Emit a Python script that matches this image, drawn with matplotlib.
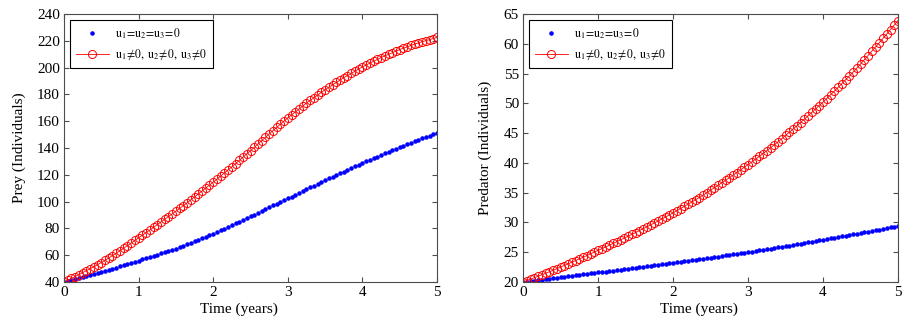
import matplotlib
matplotlib.use('Agg')
import matplotlib.pyplot as plt
import numpy as np

plt.rcParams['font.family'] = ['Liberation Serif', 'DejaVu Serif']
plt.rcParams['mathtext.fontset'] = 'stix'

# time grid (years), 101 samples
t = np.linspace(0, 5, 101)

# prey, no control
prey_u0 = [40.0, 40.7, 41.4, 42.1, 42.8, 43.5, 44.2, 45.0, 45.8, 46.5, 47.3,
           48.1, 48.9, 49.8, 50.7, 51.6, 52.5, 53.4, 54.2, 55.1, 56.0,
           56.9, 57.8, 58.7, 59.6, 60.5, 61.4, 62.3, 63.2, 64.1, 65.0,
           66.1, 67.2, 68.3, 69.4, 70.5, 71.6, 72.7, 73.8, 74.9, 76.0,
           77.3, 78.6, 79.9, 81.2, 82.5, 83.8, 85.1, 86.4, 87.7, 89.0,
           90.3, 91.7, 93.0, 94.4, 95.7, 97.1, 98.4, 99.8, 101.1, 102.5,
           103.8, 105.2, 106.5, 107.9, 109.2, 110.6, 111.9, 113.3, 114.6, 116.0,
           117.3, 118.5, 119.8, 121.1, 122.4, 123.7, 125.0, 126.2, 127.5, 128.8,
           130.0, 131.2, 132.3, 133.5, 134.7, 135.9, 137.1, 138.2, 139.4, 140.6,
           141.7, 142.8, 143.9, 145.0, 146.1, 147.1, 148.2, 149.3, 150.4, 151.5]

# prey, with controls
prey_u = [40.0, 41.3, 42.7, 44.1, 45.5, 47.0, 48.4, 49.9, 51.4, 52.9, 54.5,
          56.2, 57.9, 59.7, 61.5, 63.3, 65.2, 67.1, 69.0, 71.0, 73.0,
          74.9, 76.8, 78.8, 80.8, 82.8, 84.8, 86.8, 88.8, 90.8, 92.8,
          94.9, 97.0, 99.1, 101.3, 103.5, 105.7, 107.9, 110.1, 112.3, 114.5,
          116.8, 119.1, 121.4, 123.7, 126.0, 128.4, 130.8, 133.2, 135.6, 138.0,
          140.5, 143.0, 145.5, 148.0, 150.5, 152.9, 155.3, 157.7, 160.1, 162.5,
          164.7, 166.9, 169.1, 171.3, 173.5, 175.5, 177.5, 179.5, 181.5, 183.5,
          185.3, 187.1, 188.9, 190.7, 192.5, 194.1, 195.7, 197.3, 198.9, 200.5,
          201.9, 203.3, 204.7, 206.1, 207.5, 208.7, 209.9, 211.1, 212.3, 213.5,
          214.5, 215.5, 216.5, 217.5, 218.5, 219.3, 220.1, 220.9, 221.7, 222.5]

# predator, no control
pred_u0 = [20.0, 20.08, 20.16, 20.24, 20.32, 20.4, 20.48, 20.56, 20.64, 20.72, 20.8,
           20.88, 20.96, 21.04, 21.12, 21.2, 21.28, 21.36, 21.44, 21.52, 21.6,
           21.68, 21.76, 21.84, 21.92, 22.0, 22.08, 22.16, 22.24, 22.32, 22.4,
           22.48, 22.56, 22.64, 22.72, 22.8, 22.88, 22.96, 23.04, 23.12, 23.2,
           23.29, 23.38, 23.47, 23.56, 23.65, 23.74, 23.83, 23.92, 24.01, 24.1,
           24.19, 24.28, 24.37, 24.46, 24.55, 24.64, 24.73, 24.82, 24.91, 25.0,
           25.1, 25.2, 25.3, 25.4, 25.5, 25.6, 25.7, 25.8, 25.9, 26.0,
           26.11, 26.22, 26.33, 26.44, 26.55, 26.66, 26.77, 26.88, 26.99, 27.1,
           27.21, 27.32, 27.43, 27.54, 27.65, 27.76, 27.87, 27.98, 28.09, 28.2,
           28.32, 28.44, 28.56, 28.68, 28.8, 28.92, 29.04, 29.16, 29.28, 29.4]

# predator, with controls
pred_u = [20.0, 20.24, 20.48, 20.72, 20.96, 21.21, 21.46, 21.71, 21.97, 22.23, 22.5,
          22.77, 23.04, 23.31, 23.59, 23.87, 24.15, 24.43, 24.72, 25.01, 25.3,
          25.59, 25.88, 26.17, 26.47, 26.77, 27.07, 27.37, 27.68, 27.99, 28.3,
          28.62, 28.94, 29.26, 29.58, 29.91, 30.24, 30.57, 30.91, 31.25, 31.6,
          31.96, 32.32, 32.69, 33.06, 33.43, 33.8, 34.18, 34.57, 34.98, 35.4,
          35.81, 36.23, 36.65, 37.07, 37.5, 37.93, 38.37, 38.81, 39.25, 39.7,
          40.16, 40.62, 41.09, 41.56, 42.04, 42.53, 43.03, 43.54, 44.06, 44.6,
          45.13, 45.67, 46.22, 46.77, 47.33, 47.9, 48.47, 49.05, 49.63, 50.2,
          50.81, 51.42, 52.04, 52.66, 53.29, 53.93, 54.57, 55.22, 55.89, 56.6,
          57.31, 58.02, 58.74, 59.46, 60.18, 60.91, 61.64, 62.39, 63.14, 63.9]

lab0 = r'$\mathrm{u_1\!=\!u_2\!=\!u_3\!=\!0}$'
lab1 = r'$\mathrm{u_1\!\neq\!0,\ u_2\!\neq\!0,\ u_3\!\neq\!0}$'

fig = plt.figure(figsize=(9.06, 3.26), dpi=100)
ax1 = fig.add_axes([64/906, 44/326, 373/906, 268/326])
ax2 = fig.add_axes([523/906, 44/326, 375/906, 268/326])

panels = [(ax1, prey_u0, prey_u, 'Prey (Individuals)', (40, 240), np.arange(40, 241, 20)),
          (ax2, pred_u0, pred_u, 'Predator (Individuals)', (20, 65), np.arange(20, 66, 5))]

for ax, y0, y1, ylab, ylim, yt in panels:
    ax.plot(t, y0, '.', color='blue', markersize=4.5, label=lab0)
    ax.plot(t, y1, '-o', color='red', markersize=5.8, markerfacecolor='none',
            markeredgewidth=0.7, linewidth=0.6, label=lab1)
    ax.set_xlim(0, 5)
    ax.set_ylim(*ylim)
    ax.set_xticks(range(6))
    ax.set_yticks(yt)
    ax.tick_params(direction='in', top=True, right=True, length=3.5,
                   labelsize=11, color='0.3', pad=3)
    for s in ax.spines.values():
        s.set_color('0.3')
        s.set_linewidth(0.8)
    ax.set_xlabel('Time (years)', fontsize=11, labelpad=1)
    ax.xaxis.set_label_coords(0.47, -0.075)
    ax.set_ylabel(ylab, fontsize=11, labelpad=8)
    leg = ax.legend(loc='upper left', fontsize=8.5, handlelength=2.8, fancybox=False,
                    edgecolor='black', framealpha=1, borderaxespad=0.5,
                    labelspacing=0.6, borderpad=0.5, handletextpad=0.5)
    leg.get_frame().set_linewidth(0.8)

fig.savefig('out.png', dpi=100)
